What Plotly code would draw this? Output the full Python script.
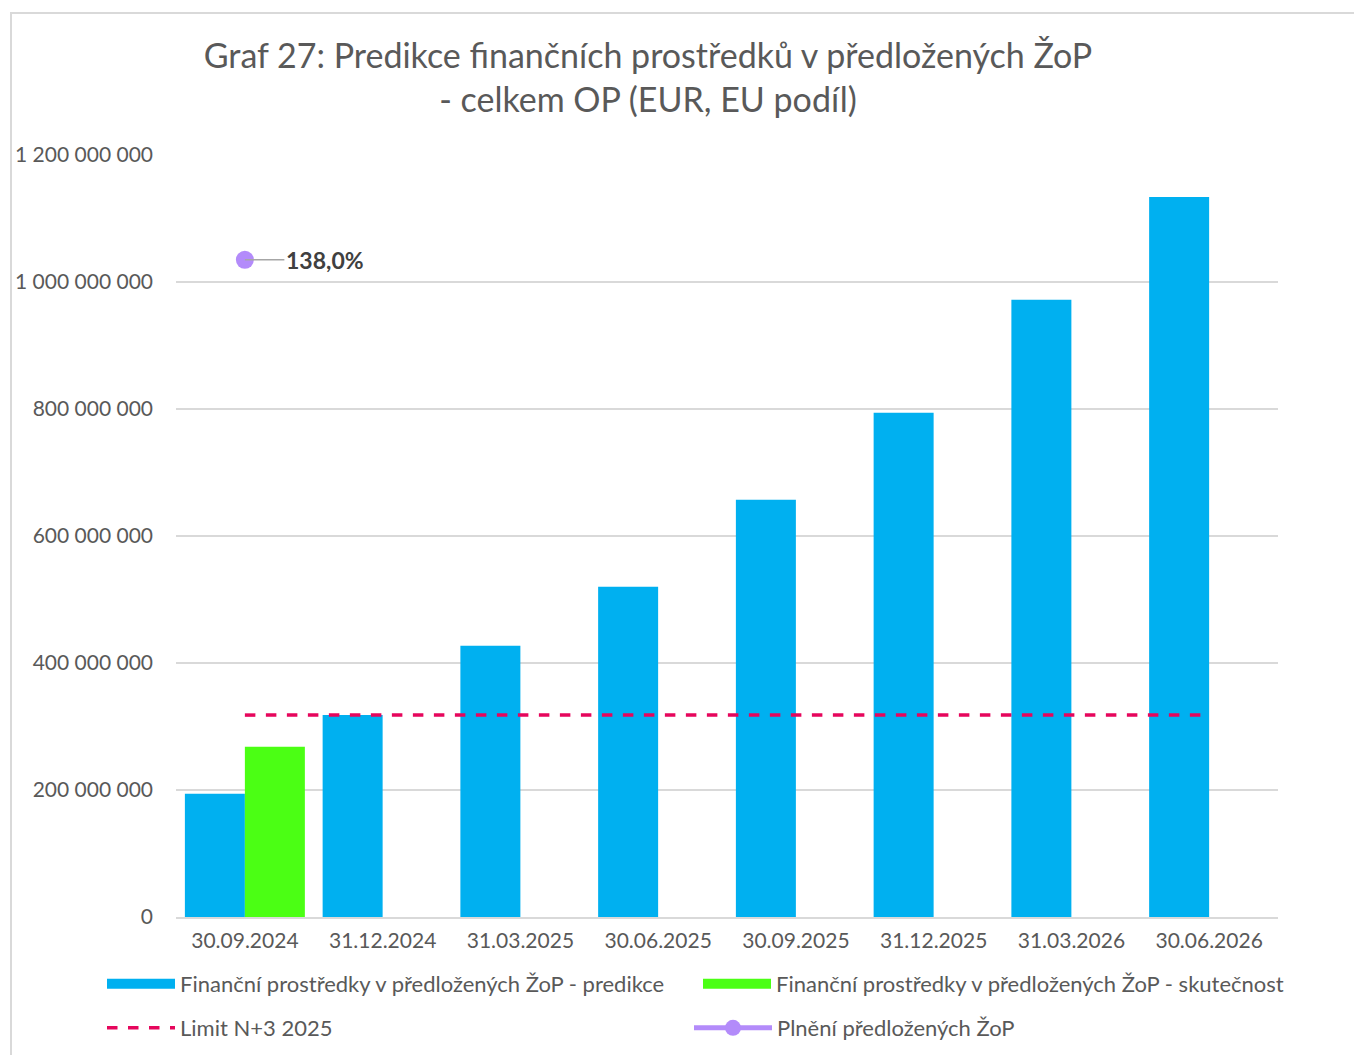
import plotly.graph_objects as go

categories = ["30.09.2024", "31.12.2024", "31.03.2025", "30.06.2025",
              "30.09.2025", "31.12.2025", "31.03.2026", "30.06.2026"]
predikce = [194e6, 318e6, 427e6, 520e6, 657e6, 794e6, 972e6, 1134e6]
skutecnost = [268e6, None, None, None, None, None, None, None]
limit_n3 = [318e6, 318e6, 318e6, 318e6, 318e6, 318e6, 318e6, 318e6]
plneni = [1.38, None, None, None, None, None, None, None]

names = ["Finanční prostředky v předložených ŽoP - predikce",
         "Finanční prostředky v předložených ŽoP - skutečnost",
         "Limit N+3 2025",
         "Plnění předložených ŽoP"]

FONT = "Lato"
GREY = "#595959"
BLUE = "#00B0F0"
GREEN = "#4BFF14"
PINK = "#E6065C"
PURPLE = "#B38BFA"

# page is offset by the 8px body margin
W, H = 1354, 1047
L, R, T, B = 168, 84, 147, 138
PW, PH = W - L - R, H - T - B


def px_x(page_x):
    return (page_x - 8 - L) / PW


def px_y(page_y):
    return (H - B - (page_y - 8)) / PH


fig = go.Figure()
fig.add_trace(go.Bar(x=categories, y=predikce, name=names[0], showlegend=False,
                     marker=dict(color=BLUE, line=dict(width=0))))
fig.add_trace(go.Bar(x=categories, y=skutecnost, name=names[1], showlegend=False,
                     marker=dict(color=GREEN, line=dict(width=0))))
fig.add_trace(go.Scatter(x=categories, y=limit_n3, name=names[2], mode="lines", legend="legend3",
                         line=dict(color=PINK, width=3.5, dash="dash")))
fig.add_trace(go.Scatter(x=categories, y=plneni, name=names[3], mode="lines+markers",
                         yaxis="y2", legend="legend4", line=dict(color=PURPLE, width=5),
                         marker=dict(color=PURPLE, size=18)))
# legend entries for the bar series (wide rectangle swatches)
fig.add_trace(go.Scatter(x=[None], y=[None], name=names[0], mode="lines", legend="legend",
                         line=dict(color=BLUE, width=15), hoverinfo="skip"))
fig.add_trace(go.Scatter(x=[None], y=[None], name=names[1], mode="lines", legend="legend2",
                         line=dict(color=GREEN, width=15), hoverinfo="skip"))

label = f"{plneni[0]*100:.1f}%".replace(".", ",")
fig.add_annotation(x=categories[0], y=plneni[0], xref="x", yref="y2", text=f"<b>{label}</b>",
                   showarrow=True, arrowhead=0, arrowwidth=1.5, arrowcolor="#A6A6A6",
                   ax=80, ay=0, standoff=0, font=dict(family=FONT, size=23, color="#404040"))

fig.add_shape(type="rect", xref="paper", yref="paper", x0=px_x(11), y0=-0.3, x1=1.2, y1=px_y(13),
              line=dict(color="#D9D9D9", width=2), layer="below")

leg_common = dict(orientation="h", xanchor="left", yanchor="middle",
                  font=dict(size=22, color=GREY), bgcolor="rgba(0,0,0,0)")

fig.update_layout(
    width=W, height=H,
    paper_bgcolor="white", plot_bgcolor="white",
    separators=", ",
    margin=dict(l=L, r=R, t=T, b=B, autoexpand=False),
    barmode="group", bargap=0.129, bargroupgap=0,
    font=dict(family=FONT, color=GREY, size=20),
    title=dict(text="Graf 27: Predikce finančních prostředků v předložených ŽoP<br>- celkem OP (EUR, EU podíl)",
               x=(648 - 8) / W, xanchor="center", xref="container",
               y=1 - 60 / H, yanchor="top", yref="container",
               font=dict(family=FONT, size=34, color=GREY)),
    xaxis=dict(type="category", showgrid=False, showline=True, linecolor="#D9D9D9", linewidth=2,
               ticks="", tickfont=dict(size=21, color=GREY), ticklabelstandoff=4),
    yaxis=dict(range=[0, 1.2e9], dtick=2e8, tickformat=",d", showgrid=True, gridcolor="#D9D9D9",
               gridwidth=1.5, zeroline=False, showline=False, ticks="",
               tickfont=dict(size=21, color=GREY), ticklabelstandoff=22),
    yaxis2=dict(range=[0, 1.6], overlaying="y", side="right", visible=False),
    showlegend=True,
    legend=dict(x=px_x(102), y=px_y(984), itemwidth=68, **leg_common),
    legend2=dict(x=px_x(698), y=px_y(984), itemwidth=68, **leg_common),
    legend3=dict(x=px_x(102), y=px_y(1028), itemwidth=68, **leg_common),
    legend4=dict(x=px_x(689), y=px_y(1028), itemwidth=78, **leg_common),
)

fig.write_html("out.html")
